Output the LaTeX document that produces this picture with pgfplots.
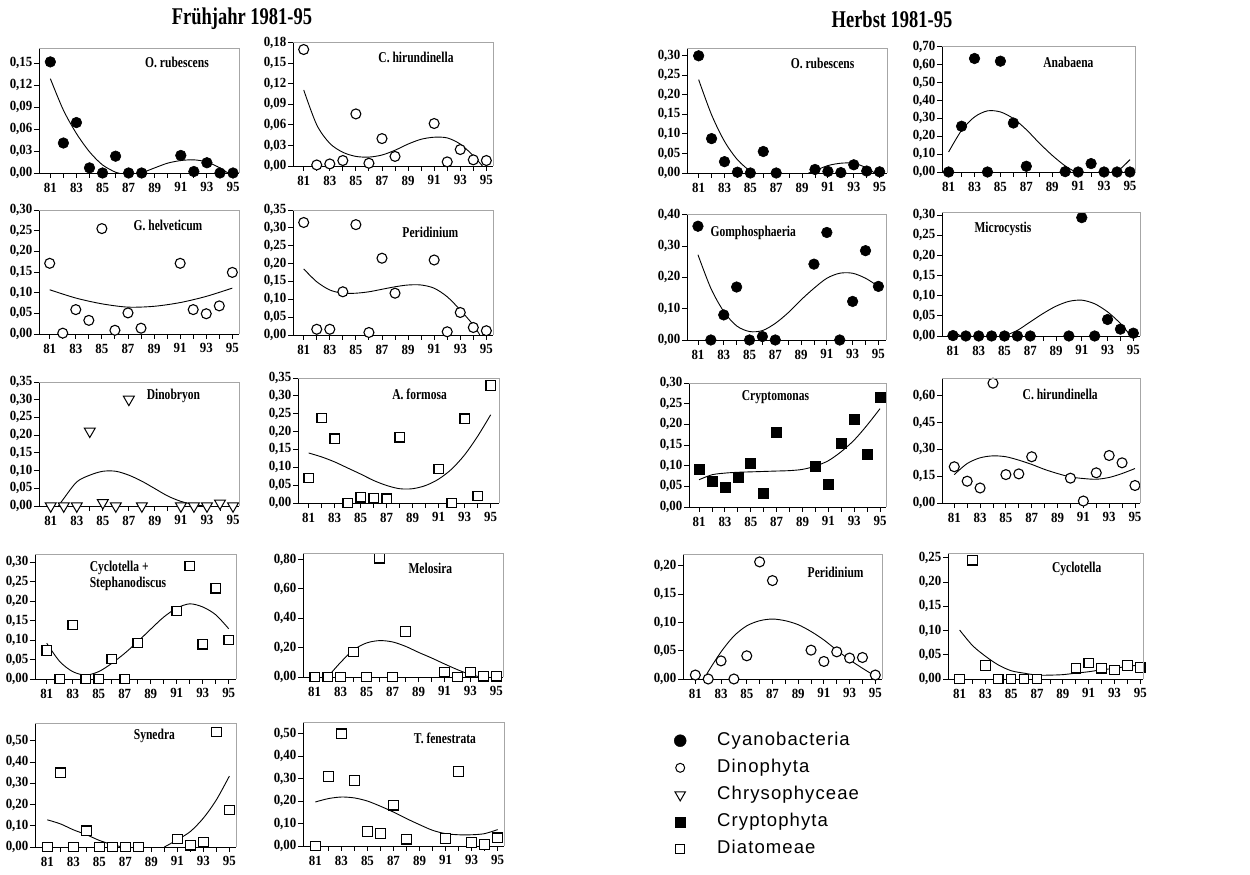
\documentclass[border=0pt]{standalone}
\usepackage{fontspec}
\setmainfont{Liberation Serif}
\newfontfamily\tickfam[FakeStretch=0.92]{Liberation Serif}
\newfontfamily\namefam[FakeStretch=0.77]{Liberation Serif}
\newfontfamily\legfam[LetterSpace=6]{Liberation Sans}
\usepackage{pgfplots}
\pgfplotsset{compat=1.18}
\newcommand\nm{\namefam\bfseries\fontsize{15}{16.7}\selectfont}
\pgfplotsset{
 panel/.style={
   scale only axis, axis lines*=left, tick align=outside,
   major tick length=5pt,
   xtick={81,82,...,95}, xticklabels={81,,83,,85,,87,,89,,91,,93,,95},
   ymin=0, scaled y ticks=false,
   axis line style={black, line width=0.9pt},
   tick style={black, line width=0.9pt},
   tick label style={font=\tickfam\bfseries\fontsize{14}{14}\selectfont, black},
   yticklabel style={inner sep=1.5pt, /pgf/number format/.cd, fixed, fixed zerofill, precision=2, use comma, assume math mode=true},
   xticklabel style={inner sep=1.5pt, yshift=-3pt},
   clip=false,
   extra description/.code={\draw[gray!70, line width=0.8pt] (0,1) -- (1,1) -- (1,0);},
 },
 fitc/.style={black, line width=0.9pt, smooth, no marks},
 cyano/.style={only marks, mark=*, mark size=5.3pt, mark options={draw=black, fill=black, line width=0.6pt}},
 dino/.style={only marks, mark=*, mark size=5pt, mark options={draw=black, fill=white, line width=1.1pt}},
 chryso/.style={only marks, mark=triangle*, mark size=6.3pt, mark options={draw=black, fill=white, line width=1pt, rotate=180}},
 crypto/.style={only marks, mark=square*, mark size=5pt, mark options={draw=black, fill=black, line width=0.6pt}},
 diatom/.style={only marks, mark=square*, mark size=4.7pt, mark options={draw=black, fill=white, line width=1.1pt}},
}
\begin{document}
\begin{tikzpicture}
\useasboundingbox (0,0) rectangle (1250pt,875pt);
\node[font=\namefam\bfseries\fontsize{24}{24}\selectfont] at (242pt,856pt) {Frühjahr 1981-95};
\node[font=\namefam\bfseries\fontsize{24}{24}\selectfont] at (892pt,856pt) {Herbst 1981-95};

% ---------- P1 spring O. rubescens
\begin{axis}[panel, at={(39pt,702pt)}, anchor=south west, width=200pt, height=125pt,
  xmin=80.13, xmax=95.46, ymax=0.171, ytick={0,0.03,0.06,0.09,0.12,0.15}]
\addplot[fitc] coordinates {(81,0.129)(82,0.086)(83,0.054)(84,0.029)(85,0.011)(86,0.001)(86.3,0)};
\addplot[fitc] coordinates {(88,0)(89,0.007)(90,0.0135)(91,0.017)(92,0.018)(93,0.015)(94,0.007)(94.6,0)};
\addplot[cyano] coordinates {(81,0.152)(82,0.041)(83,0.069)(84,0.007)(85,0)(86,0.023)(87,0)(88,0)(91,0.024)(92,0.002)(93,0.014)(94,0)(95,0)};
\node[font=\nm] at (rel axis cs:0.69,0.885) {O. rubescens};
\end{axis}

% ---------- P2 spring C. hirundinella
\begin{axis}[panel, at={(293pt,709pt)}, anchor=south west, width=200pt, height=124pt,
  xmin=80.18, xmax=95.51, ymax=0.181, ytick={0,0.03,0.06,0.09,0.12,0.15,0.18}]
\addplot[fitc] coordinates {(81,0.111)(82,0.060)(83,0.033)(84,0.020)(85,0.014)(86,0.013)(87,0.016)(88,0.023)(89,0.032)(90,0.039)(91,0.042)(92,0.041)(93,0.032)(94,0.015)(94.7,0)};
\addplot[dino] coordinates {(81,0.170)(82,0.0015)(83,0.003)(84,0.008)(85,0.076)(86,0.004)(87,0.040)(88,0.014)(91,0.062)(92,0.006)(93,0.024)(94,0.009)(95,0.008)};
\node[font=\nm] at (rel axis cs:0.615,0.874) {C. hirundinella};
\end{axis}

% ---------- P3 G. helveticum
\begin{axis}[panel, at={(39pt,541pt)}, anchor=south west, width=200pt, height=124pt,
  xmin=80.18, xmax=95.51, ymax=0.30, ytick={0,0.05,0.10,0.15,0.20,0.25,0.30}]
\addplot[fitc] coordinates {(81,0.107)(83,0.087)(85,0.073)(87,0.065)(89,0.067)(91,0.076)(93,0.091)(95,0.111)};
\addplot[dino] coordinates {(81,0.171)(82,0.002)(83,0.059)(84,0.033)(85,0.255)(86,0.009)(87,0.051)(88,0.014)(91,0.171)(92,0.059)(93,0.049)(94,0.068)(95,0.149)};
\node[font=\nm] at (rel axis cs:0.645,0.874) {G. helveticum};
\end{axis}

% ---------- P4 spring Peridinium
\begin{axis}[panel, at={(293pt,540pt)}, anchor=south west, width=200pt, height=125pt,
  xmin=80.18, xmax=95.51, ymax=0.35, ytick={0,0.05,0.10,0.15,0.20,0.25,0.30,0.35}]
\addplot[fitc] coordinates {(81,0.185)(82,0.149)(83,0.126)(84,0.117)(85,0.117)(86,0.121)(87,0.128)(88,0.135)(89,0.140)(90,0.140)(91,0.131)(92,0.107)(93,0.070)(94,0.028)(94.5,0)};
\addplot[dino] coordinates {(81,0.315)(82,0.016)(83,0.016)(84,0.121)(85,0.309)(86,0.007)(87,0.215)(88,0.117)(91,0.210)(92,0.009)(93,0.063)(94,0.021)(95,0.012)};
\node[font=\nm] at (rel axis cs:0.687,0.821) {Peridinium};
\end{axis}

% ---------- P5 Dinobryon
\begin{axis}[panel, at={(39pt,369pt)}, anchor=south west, width=200pt, height=124pt,
  xmin=80.10, xmax=95.46, ymax=0.35, ytick={0,0.05,0.10,0.15,0.20,0.25,0.30,0.35}]
\addplot[fitc] coordinates {(81.6,0)(82,0.021)(83,0.068)(84,0.087)(85,0.098)(86,0.098)(87,0.087)(88,0.070)(89,0.049)(90,0.028)(91,0.013)(92,0.004)(92.8,0)};
\addplot[chryso] coordinates {(81,0)(82,0)(83,0)(84,0.211)(85,0.009)(86,0)(87,0.301)(88,0)(91,0)(92,0)(93,0)(94,0.008)(95,0)};
\node[font=\nm] at (rel axis cs:0.672,0.884) {Dinobryon};
\end{axis}

% ---------- P6 A. formosa
\begin{axis}[panel, at={(298pt,372pt)}, anchor=south west, width=201pt, height=125pt,
  xmin=80.18, xmax=95.64, ymax=0.35, ytick={0,0.05,0.10,0.15,0.20,0.25,0.30,0.35}]
\addplot[fitc] coordinates {(81,0.140)(82,0.129)(83,0.115)(84,0.098)(85,0.081)(86,0.063)(87,0.049)(88,0.040)(89,0.040)(90,0.049)(91,0.067)(92,0.095)(93,0.135)(94,0.187)(95,0.247)};
\addplot[diatom] coordinates {(81,0.070)(82,0.238)(83,0.180)(84,0)(85,0.016)(86,0.014)(87,0.012)(88,0.184)(91,0.095)(92,0)(93,0.236)(94,0.019)(95,0.329)};
\node[font=\nm] at (rel axis cs:0.605,0.867) {A. formosa};
\end{axis}

% ---------- P7 Cyclotella + Stephanodiscus
\begin{axis}[panel, at={(35pt,196pt)}, anchor=south west, width=201pt, height=125pt,
  xmin=80.10, xmax=95.56, ymax=0.321, ytick={0,0.05,0.10,0.15,0.20,0.25,0.30}]
\addplot[fitc] coordinates {(81,0.092)(82,0.045)(83,0.019)(84,0.010)(85,0.019)(86,0.040)(87,0.066)(88,0.096)(89,0.128)(90,0.159)(91,0.182)(92,0.193)(93,0.185)(94,0.165)(95,0.129)};
\addplot[diatom] coordinates {(81,0.073)(82,0)(83,0.139)(84,0)(85,0)(86,0.051)(87,0)(88,0.092)(91,0.174)(92,0.290)(93,0.089)(94,0.233)(95,0.100)};
\node[font=\nm, anchor=west, align=left] at (rel axis cs:0.255,0.826) {Cyclotella +\\Stephanodiscus};
\end{axis}

% ---------- P8 Melosira
\begin{axis}[panel, at={(303pt,198pt)}, anchor=south west, width=200pt, height=124pt,
  xmin=80.10, xmax=95.51, ymax=0.845, ytick={0,0.2,0.4,0.6,0.8}]
\addplot[fitc] coordinates {(82,0)(83,0.100)(84,0.185)(85,0.232)(86,0.248)(87,0.239)(88,0.209)(89,0.168)(90,0.130)(91,0.089)(92,0.050)(93,0.016)(93.8,0)};
\addplot[diatom] coordinates {(81,0)(82,0)(83,0)(84,0.170)(85,0)(86,0.809)(87,0)(88,0.311)(91,0.034)(92,0)(93,0.034)(94,0.005)(95,0.005)};
\node[font=\nm] at (rel axis cs:0.637,0.874) {Melosira};
\end{axis}

% ---------- P9 Synedra
\begin{axis}[panel, at={(35pt,28pt)}, anchor=south west, width=201pt, height=124pt,
  xmin=80.05, xmax=95.51, ymax=0.584, ytick={0,0.1,0.2,0.3,0.4,0.5}]
\addplot[fitc] coordinates {(81,0.128)(82,0.109)(83,0.081)(84,0.058)(85,0.031)(86,0.011)(86.8,0)};
\addplot[fitc] coordinates {(90,0)(91,0.034)(92,0.073)(93,0.136)(94,0.222)(95,0.334)};
\addplot[diatom] coordinates {(81,0)(82,0.350)(83,0)(84,0.077)(85,0)(86,0)(87,0)(88,0)(91,0.038)(92,0.008)(93,0.022)(94,0.541)(95,0.175)};
\node[font=\nm] at (rel axis cs:0.594,0.893) {Synedra};
\end{axis}

% ---------- P10 T. fenestrata
\begin{axis}[panel, at={(303pt,29pt)}, anchor=south west, width=201pt, height=124pt,
  xmin=80.05, xmax=95.49, ymax=0.552, ytick={0,0.1,0.2,0.3,0.4,0.5}]
\addplot[fitc] coordinates {(81,0.196)(82,0.211)(83,0.218)(84,0.214)(85,0.200)(86,0.177)(87,0.151)(88,0.122)(89,0.095)(90,0.070)(91,0.055)(92,0.050)(93,0.050)(94,0.055)(95,0.073)};
\addplot[diatom] coordinates {(81,0)(82,0.310)(83,0.500)(84,0.292)(85,0.065)(86,0.055)(87,0.181)(88,0.030)(91,0.033)(92,0.331)(93,0.015)(94,0.007)(95,0.037)};
\node[font=\nm] at (rel axis cs:0.706,0.871) {T. fenestrata};
\end{axis}

% ---------- P11 autumn O. rubescens
\begin{axis}[panel, at={(687pt,702pt)}, anchor=south west, width=200pt, height=125pt,
  xmin=80.10, xmax=95.57, ymax=0.320, ytick={0,0.05,0.10,0.15,0.20,0.25,0.30}]
\addplot[fitc] coordinates {(81,0.239)(82,0.149)(83,0.081)(84,0.034)(85,0.004)(85.2,0)};
\addplot[fitc] coordinates {(89.5,0)(90,0.006)(91,0.019)(92,0.025)(93,0.025)(94,0.013)(94.6,0)};
\addplot[cyano] coordinates {(81,0.300)(82,0.088)(83,0.029)(84,0.002)(85,0)(86,0.055)(87,0)(90,0.009)(91,0.004)(92,0.001)(93,0.021)(94,0.005)(95,0.003)};
\node[font=\nm] at (rel axis cs:0.678,0.88) {O. rubescens};
\end{axis}

% ---------- P12 Anabaena
\begin{axis}[panel, at={(942pt,703pt)}, anchor=south west, width=193pt, height=126pt,
  xmin=80.49, xmax=95.39, ymax=0.705, ytick={0,0.1,0.2,0.3,0.4,0.5,0.6,0.7}]
\addplot[fitc] coordinates {(81,0.112)(82,0.233)(83,0.308)(84,0.342)(85,0.336)(86,0.299)(87,0.237)(88,0.162)(89,0.093)(90,0.034)(90.8,0)};
\addplot[fitc] coordinates {(93.8,0)(94.3,0.02)(95,0.069)};
\addplot[cyano] coordinates {(81,0)(82,0.256)(83,0.635)(84,0)(85,0.620)(86,0.274)(87,0.032)(90,0.002)(91,0)(92,0.047)(93,0)(94,0)(95,0)};
\node[font=\nm] at (rel axis cs:0.655,0.868) {Anabaena};
\end{axis}

% ---------- P13 Gomphosphaeria
\begin{axis}[panel, at={(687pt,535pt)}, anchor=south west, width=199pt, height=126pt,
  xmin=80.15, xmax=95.59, ymax=0.402, ytick={0,0.1,0.2,0.3,0.4}]
\addplot[fitc] coordinates {(81,0.272)(82,0.165)(83,0.091)(84,0.045)(85,0.027)(86,0.030)(87,0.053)(88,0.087)(89,0.128)(90,0.165)(91,0.197)(92,0.213)(93,0.213)(94,0.197)(95,0.171)};
\addplot[cyano] coordinates {(81,0.363)(82,0)(83,0.080)(84,0.169)(85,0)(86,0.011)(87,0)(90,0.242)(91,0.343)(92,0)(93,0.123)(94,0.285)(95,0.171)};
\node[font=\nm] at (rel axis cs:0.333,0.849) {Gomphosphaeria};
\end{axis}

% ---------- P14 Microcystis
\begin{axis}[panel, at={(942pt,539pt)}, anchor=south west, width=198pt, height=124pt,
  xmin=80.15, xmax=95.52, ymax=0.308, ytick={0,0.05,0.10,0.15,0.20,0.25,0.30}]
\addplot[fitc] coordinates {(81,0.012)(81.6,0)};
\addplot[fitc] coordinates {(85,0)(86,0.014)(87,0.035)(88,0.056)(89,0.074)(90,0.086)(91,0.089)(92,0.080)(93,0.060)(94,0.031)(94.8,0)};
\addplot[cyano] coordinates {(81,0.001)(82,0)(83,0)(84,0)(85,0)(86,0)(87,0)(90,0)(91,0.294)(92,0)(93,0.041)(94,0.017)(95,0.007)};
\node[font=\nm] at (rel axis cs:0.308,0.866) {Microcystis};
\end{axis}

% ---------- P15 Cryptomonas
\begin{axis}[panel, at={(689pt,368pt)}, anchor=south west, width=197pt, height=124pt,
  xmin=80.22, xmax=95.46, ymax=0.30, ytick={0,0.05,0.10,0.15,0.20,0.25,0.30}]
\addplot[fitc] coordinates {(81,0.066)(82,0.078)(83,0.082)(84,0.084)(85,0.085)(86,0.086)(87,0.087)(88,0.088)(89,0.091)(90,0.099)(91,0.112)(92,0.134)(93,0.162)(94,0.198)(95,0.238)};
\addplot[crypto] coordinates {(81,0.091)(82,0.062)(83,0.048)(84,0.072)(85,0.105)(86,0.033)(87,0.180)(90,0.098)(91,0.055)(92,0.154)(93,0.213)(94,0.128)(95,0.265)};
\node[font=\nm] at (rel axis cs:0.439,0.882) {Cryptomonas};
\end{axis}

% ---------- P16 autumn C. hirundinella
\begin{axis}[panel, at={(942pt,372pt)}, anchor=south west, width=198pt, height=125pt,
  xmin=80.05, xmax=95.39, ymax=0.70, ytick={0,0.15,0.30,0.45,0.60}]
\addplot[fitc] coordinates {(81,0.159)(82,0.221)(83,0.253)(84,0.264)(85,0.259)(86,0.240)(87,0.216)(88,0.188)(89,0.165)(90,0.146)(91,0.137)(92,0.133)(93,0.143)(94,0.165)(95,0.193)};
\addplot[dino] coordinates {(81,0.203)(82,0.122)(83,0.084)(84,0.671)(85,0.159)(86,0.163)(87,0.259)(90,0.139)(91,0.011)(92,0.169)(93,0.266)(94,0.225)(95,0.098)};
\node[font=\nm] at (rel axis cs:0.597,0.871) {C. hirundinella};
\end{axis}

% ---------- P17 autumn Peridinium
\begin{axis}[panel, at={(683pt,196pt)}, anchor=south west, width=199pt, height=125pt,
  xmin=80.04, xmax=95.52, ymax=0.221, ytick={0,0.05,0.10,0.15,0.20}]
\addplot[fitc] coordinates {(81.7,0)(82,0.013)(83,0.048)(84,0.076)(85,0.094)(86,0.103)(87,0.106)(88,0.103)(89,0.096)(90,0.084)(91,0.069)(92,0.051)(93,0.034)(94,0.019)(95,0.005)};
\addplot[dino] coordinates {(81,0.007)(82,0)(83,0.032)(84,0)(85,0.041)(86,0.207)(87,0.174)(90,0.051)(91,0.031)(92,0.048)(93,0.037)(94,0.038)(95,0.007)};
\node[font=\nm] at (rel axis cs:0.767,0.856) {Peridinium};
\end{axis}

% ---------- P18 autumn Cyclotella
\begin{axis}[panel, at={(948pt,196pt)}, anchor=south west, width=195pt, height=126pt,
  xmin=80.10, xmax=95.21, ymax=0.260, ytick={0,0.05,0.10,0.15,0.20,0.25}]
\addplot[fitc] coordinates {(81,0.101)(82,0.069)(83,0.047)(84,0.029)(85,0.017)(86,0.012)(87,0.008)(88,0.008)(89,0.009)(90,0.012)(91,0.015)(92,0.019)(93,0.022)(94,0.026)(95,0.029)};
\addplot[diatom] coordinates {(81,0)(82,0.245)(83,0.028)(84,0)(85,0)(86,0)(87,0)(90,0.022)(91,0.033)(92,0.022)(93,0.019)(94,0.028)(95,0.024)};
\node[font=\nm] at (rel axis cs:0.66,0.872) {Cyclotella};
\end{axis}

% ---------- legend
\begin{axis}[hide axis, scale only axis, width=50pt, height=50pt, at={(674pt,144pt)}, anchor=north west,
  xmin=0, xmax=1, ymin=0, ymax=1, legend cell align=left,
  legend style={at={(0,1)}, anchor=north west, draw=none, fill=none, inner sep=0pt,
    row sep=8.1pt, column sep=30pt,
    font=\legfam\fontsize{18.5}{20}\selectfont, text=black,
    nodes={inner sep=1pt, text height=13pt, text depth=4pt}}]
\addlegendimage{only marks, mark=*, mark size=6pt, mark options={draw=black, fill=black}}
\addlegendentry{Cyanobacteria}
\addlegendimage{only marks, mark=*, mark size=4.5pt, mark options={draw=black, fill=white, line width=1pt}}
\addlegendentry{Dinophyta}
\addlegendimage{only marks, mark=triangle*, mark size=6pt, mark options={draw=black, fill=white, line width=1pt, rotate=180}}
\addlegendentry{Chrysophyceae}
\addlegendimage{only marks, mark=square*, mark size=5pt, mark options={draw=black, fill=black}}
\addlegendentry{Cryptophyta}
\addlegendimage{only marks, mark=square*, mark size=4.5pt, mark options={draw=black, fill=white, line width=1pt}}
\addlegendentry{Diatomeae}
\end{axis}
\end{tikzpicture}
\end{document}
